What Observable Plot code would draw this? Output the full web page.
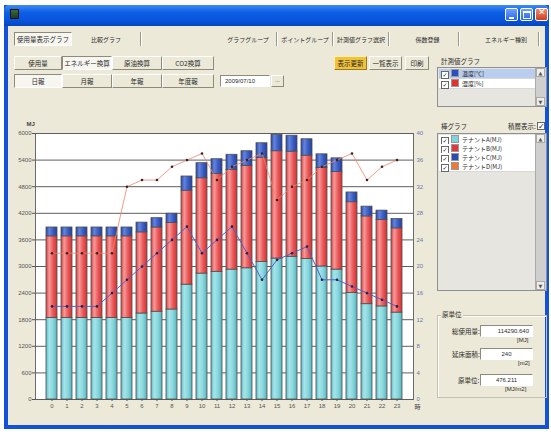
<!DOCTYPE html>
<html>
<head>
<meta charset="utf-8">
<script src="https://cdn.jsdelivr.net/npm/d3@7"></script>
<script src="https://cdn.jsdelivr.net/npm/@observablehq/plot@0.6"></script>
<style>
  html, body { margin: 0; padding: 0; }
  body { width: 551px; height: 432px; background: #fdfdfb; overflow: hidden; position: relative;
         font-family: "Noto Sans CJK JP", "Noto Sans", sans-serif; color: #2a2a2a; }
  .abs { position: absolute; box-sizing: border-box; }
  #win { left: 4px; top: 5px; width: 545px; height: 424px; background: #ece9d8;
         border: 4px solid #1352d8; border-top: none; }
  #titlebar { left: 4px; top: 5px; width: 545px; height: 21px; border-radius: 5px 5px 0 0;
              background: linear-gradient(#3f8cf6 0%, #0d5fe6 35%, #0653db 75%, #0745bf 100%); }
  #icon { left: 10px; top: 9px; width: 9px; height: 10px; background: linear-gradient(#3c6b3c, #1d3a1d); border: 1px solid #112; }
  .cap { top: 8px; width: 13px; height: 13px; border: 1px solid #fff; border-radius: 2px;
         background: linear-gradient(#6ea2ff, #2a66e6); }
  .cap.close { background: linear-gradient(#f08a6a, #d0401e); }
  .cap::after { content: ""; position: absolute; }
  #cmin::after { left: 3px; top: 8px; width: 5px; height: 2px; background: #fff; }
  #cmax::after { left: 2px; top: 2px; width: 6px; height: 5px; border: 1px solid #fff; border-top-width: 2px; }
  #cclose::after { content: "✕"; left: 2px; top: -2px; color: #fff; font: bold 9px "DejaVu Sans"; }
  .btn { height: 14px; line-height: 13px; font-size: 6.5px; text-align: center; white-space: nowrap;
         background: #ece9d8; border: 1px solid; border-color: #ffffff #8d8a7e #8d8a7e #ffffff; }
  .btn.on { background: #f7f6f0; border-color: #8d8a7e #ffffff #ffffff #8d8a7e; }
  .btn.hot { background: #f2c33a; border-color: #fff2b0 #9a7a20 #9a7a20 #fff2b0; }
  .btn.flat { border-color: transparent; font-size: 6px; }
  .btn.dots { font: 6px "Liberation Sans"; line-height: 9px; height: 12px; }
  .sep { width: 2px; border-left: 1px solid #9c998c; border-right: 1px solid #fff; }
  .field { height: 12px; background: #fff; border: 1px solid; border-color: #8d8a7e #fff #fff #8d8a7e;
           font: 6px "Liberation Sans"; line-height: 10px; }
  .lab { font-size: 6.5px; white-space: nowrap; line-height: 8px; }
  .lb { background: #e6e5e0; border: 1px solid #8f8f8f; }
  .lb .scroll { position: absolute; right: 0; top: 0; bottom: 0; width: 10px; background: #cfcfcf; border-left: 1px solid #aaa; }
  .lb .arrow { position: absolute; left: 0; width: 9px; height: 9px; background: #eeeeea; border: 1px solid #aaa; box-sizing: border-box;
               font: 5px "DejaVu Sans"; text-align: center; line-height: 8px; color: #555; }
  .row { position: absolute; left: 1px; width: 96px; height: 9px; background: #fff; border-bottom: 1px solid #d8d8d8;
         font-size: 6px; line-height: 9px; white-space: nowrap; }
  .row.sel { background: #b9cdee; }
  .chk { display: inline-block; width: 6px; height: 6px; margin: 0 2px 0 2px; vertical-align: -1px;
         border: 1px solid #666; background: #fff; font: bold 6px "DejaVu Sans"; line-height: 6px; text-align: center; color: #123; }
  .sw { display: inline-block; width: 6px; height: 6px; margin-right: 3px; vertical-align: -1px; border: 1px solid #999; }
  #group { left: 437px; top: 315px; width: 110px; height: 83px; border: 1px solid #c4c0b2; box-shadow: inset 1px 1px 0 #fff; }
  #chart { position: absolute; left: 0; top: 112px; }
</style>
</head>
<body>
<div id="win" class="abs"></div>
<div id="titlebar" class="abs"></div>
<div id="icon" class="abs"></div>
<div id="cmin" class="abs cap" style="left:505px"></div>
<div id="cmax" class="abs cap" style="left:520px"></div>
<div id="cclose" class="abs cap close" style="left:535px"></div>

<!-- top toolbar -->
<div class="abs btn on" style="left:14px;top:32px;width:58px">使用量表示グラフ</div>
<div class="abs btn flat" style="left:72px;top:32px;width:68px">比較グラフ</div>
<div class="abs sep" style="left:140px;top:32px;height:14px"></div>
<div class="abs btn flat" style="left:220px;top:32px;width:56px">グラフグループ</div>
<div class="abs sep" style="left:276px;top:32px;height:14px"></div>
<div class="abs btn flat" style="left:278px;top:32px;width:54px">ポイントグループ</div>
<div class="abs sep" style="left:332px;top:32px;height:14px"></div>
<div class="abs btn flat" style="left:334px;top:32px;width:54px">計測値グラフ選択</div>
<div class="abs sep" style="left:388px;top:32px;height:14px"></div>
<div class="abs btn flat" style="left:400px;top:32px;width:55px">係数登録</div>
<div class="abs sep" style="left:458px;top:32px;height:14px"></div>
<div class="abs btn flat" style="left:475px;top:32px;width:62px">エネルギー種別</div>
<div class="abs sep" style="left:538px;top:32px;height:14px"></div>

<!-- unit / period selectors -->
<div class="abs btn" style="left:14px;top:56px;width:48px">使用量</div>
<div class="abs btn on" style="left:62px;top:56px;width:50px">エネルギー換算</div>
<div class="abs btn" style="left:112px;top:56px;width:50px">原油換算</div>
<div class="abs btn" style="left:162px;top:56px;width:52px">CO2換算</div>
<div class="abs btn on" style="left:14px;top:74px;width:48px">日報</div>
<div class="abs btn" style="left:62px;top:74px;width:50px">月報</div>
<div class="abs btn" style="left:112px;top:74px;width:50px">年報</div>
<div class="abs btn" style="left:162px;top:74px;width:52px">年度報</div>
<div class="abs field" style="left:220px;top:75px;width:50px;padding-left:4px">2009/07/10</div>
<div class="abs btn dots" style="left:271px;top:75px;width:13px">...</div>

<div class="abs btn hot" style="left:334px;top:56px;width:33px">表示更新</div>
<div class="abs btn" style="left:369px;top:56px;width:33px">一覧表示</div>
<div class="abs btn" style="left:405px;top:56px;width:24px">印刷</div>

<!-- measurement series list -->
<div class="abs lab" style="left:441px;top:57px">計測値グラフ</div>
<div class="abs lb" style="left:437px;top:67px;width:110px;height:40px">
  <div class="row sel" style="top:1px"><span class="chk">✓</span><span class="sw" style="background:#2a50c0"></span>温度[℃]</div>
  <div class="row" style="top:11px"><span class="chk">✓</span><span class="sw" style="background:#e03030"></span>湿度[%]</div>
  <div class="scroll"><div class="arrow" style="top:0">▲</div><div class="arrow" style="bottom:0">▼</div></div>
</div>

<!-- bar series list -->
<div class="abs lab" style="left:441px;top:122px">棒グラフ</div>
<div class="abs lab" style="left:508px;top:122px">積層表示:</div>
<div class="abs chk" style="left:535px;top:122px;width:8px;height:8px;font-size:8px;line-height:8px">✓</div>
<div class="abs lb" style="left:437px;top:133px;width:110px;height:158px">
  <div class="row" style="top:1px"><span class="chk">✓</span><span class="sw" style="background:#7fd3da"></span>テナントA(MJ)</div>
  <div class="row" style="top:10px"><span class="chk">✓</span><span class="sw" style="background:#e23a3a"></span>テナントB(MJ)</div>
  <div class="row" style="top:19px"><span class="chk">✓</span><span class="sw" style="background:#2c4cb4"></span>テナントC(MJ)</div>
  <div class="row" style="top:28px"><span class="chk">✓</span><span class="sw" style="background:#ee7a3a"></span>テナントD(MJ)</div>
  <div class="scroll"><div class="arrow" style="top:0">▲</div><div class="arrow" style="bottom:0">▼</div></div>
</div>

<!-- totals -->
<div id="group" class="abs"></div>
<div class="abs lab" style="left:441px;top:310px;background:#ece9d8;padding:0 1px">原単位</div>
<div class="abs lab" style="left:452px;top:327px">総使用量:</div>
<div class="abs field" style="left:480px;top:325px;width:53px;text-align:right;padding-right:3px">114290.640</div>
<div class="abs lab" style="left:517px;top:337px;font:6px 'Liberation Sans'">[MJ]</div>
<div class="abs lab" style="left:452px;top:350px">延床面積:</div>
<div class="abs field" style="left:480px;top:348px;width:53px;text-align:center">240</div>
<div class="abs lab" style="left:518px;top:360px;font:6px 'Liberation Sans'">[m2]</div>
<div class="abs lab" style="left:458px;top:376px">原単位:</div>
<div class="abs field" style="left:480px;top:374px;width:53px;text-align:center">476.211</div>
<div class="abs lab" style="left:505px;top:386px;font:6px 'Liberation Sans'">[MJ/m2]</div>

<div id="chart"></div>

<script>
// Hourly energy use per tenant (MJ), stacked A / B / C
const hours = [0, 1, 2, 3, 4, 5, 6, 7, 8, 9, 10, 11, 12, 13, 14, 15, 16, 17, 18, 19, 20, 21, 22, 23];
const tenants = ["テナントA(MJ)", "テナントB(MJ)", "テナントC(MJ)"];
const tenantA = [1840, 1840, 1840, 1840, 1840, 1840, 1940, 1980, 2030, 2590, 2840, 2880, 2930, 2960, 3100, 3180, 3220, 3170, 3000, 2930, 2400, 2150, 2100, 1960];
const tenantB = [1840, 1840, 1840, 1840, 1840, 1840, 1830, 1900, 1950, 2120, 2150, 2210, 2250, 2310, 2350, 2420, 2370, 2330, 2220, 2200, 2050, 1980, 1950, 1900];
const tenantC = [200, 200, 200, 200, 200, 200, 220, 210, 210, 320, 340, 330, 340, 330, 330, 370, 360, 370, 310, 310, 220, 220, 210, 210];

// Measured values on the right axis
const temperature = [14, 14, 14, 14, 16, 18, 20, 22, 24, 26, 22, 24, 26, 22, 18, 21, 22, 23, 18, 18, 17, 16, 15, 14];
const humidity = [22, 22, 22, 22, 22, 32, 33, 33, 35, 36, 37, 33, 35, 36, 37, 30, 32, 33, 35, 36, 37, 33, 35, 36];

// Axis ticks
const leftTicks = [0, 600, 1200, 1800, 2400, 3000, 3600, 4200, 4800, 5400, 6000];
const rightTicks = [0, 4, 8, 12, 16, 20, 24, 28, 32, 36, 40];

// the right axis (0–40) shares the left axis (0–6000) scale
const K = 6000 / 40;

const series = [tenantA, tenantB, tenantC];
const usage = [];
tenants.forEach((t, k) => hours.forEach((h, i) => usage.push({hour: h, tenant: t, value: series[k][i]})));
const climate = hours.map((h, i) => ({hour: h, temp: temperature[i], hum: humidity[i]}));

const gradients = [
  {id: "gA", stops: ["#5dbcc6", "#a6e5ea", "#86d6dc", "#55b3bd"]},
  {id: "gB", stops: ["#dc3c3c", "#f59a9a", "#ea5656", "#d23232"]},
  {id: "gC", stops: ["#2a46a4", "#6384dc", "#3a5cc4", "#26409a"]}
];

const chart = Plot.plot({
  width: 430,
  height: 311,
  marginLeft: 35,
  marginRight: 17,
  marginTop: 21,
  marginBottom: 24,
  style: {background: "transparent", fontFamily: "Liberation Sans", fontSize: "6px", color: "#555"},
  x: {domain: hours, paddingInner: 0.3, paddingOuter: 0.67, axis: null},
  y: {domain: [0, 6000], axis: null},
  color: {domain: tenants, range: gradients.map(g => `url(#${g.id})`)},
  marks: [
    Plot.frame({fill: "white", stroke: "#6a6a6a"}),
    Plot.gridY(leftTicks, {stroke: "#5e5e5e", strokeOpacity: 1, strokeWidth: 1}),
    Plot.barY(usage, {x: "hour", y: "value", fill: "tenant", stroke: "#4e4e4e", strokeWidth: 0.8, inset: 0}),
    Plot.line(climate, {x: "hour", y: d => d.hum * K, stroke: "#f08466", strokeWidth: 1, strokeOpacity: 0.8}),
    Plot.dot(climate, {x: "hour", y: d => d.hum * K, r: 1.3, fill: "#3a2228", stroke: null}),
    Plot.line(climate, {x: "hour", y: d => d.temp * K, stroke: "#5a5cc4", strokeWidth: 1}),
    Plot.dot(climate, {x: "hour", y: d => d.temp * K, r: 1.3, fill: "#2a2240", stroke: null}),
    Plot.axisY({ticks: leftTicks, anchor: "left", tickSize: 3, tickPadding: 1, tickFormat: d => String(d), label: null, color: "#555"}),
    Plot.axisY({ticks: rightTicks.map(v => v * K), anchor: "right", tickFormat: d => String(d / K), tickSize: 0, tickPadding: 3, label: null, color: "#6878ac"}),
    Plot.axisX({tickSize: 2, tickPadding: 2, label: null, color: "#555"}),
    Plot.text(["MJ"], {frameAnchor: "top-left", dx: -9, dy: -12, fill: "#444", fontWeight: "bold"}),
    Plot.text(["時"], {frameAnchor: "bottom-right", dx: 1, dy: 9, textAnchor: "start", fill: "#444", fontFamily: "Noto Sans CJK JP"})
  ]
});

const defs = d3.select(chart).insert("defs", ":first-child");
for (const g of gradients) {
  const lg = defs.append("linearGradient").attr("id", g.id).attr("x1", 0).attr("x2", 1).attr("y1", 0).attr("y2", 0);
  [0, 0.3, 0.65, 1].forEach((o, i) => lg.append("stop").attr("offset", o).attr("stop-color", g.stops[i]));
}

document.getElementById("chart").append(chart);
</script>
</body>
</html>
